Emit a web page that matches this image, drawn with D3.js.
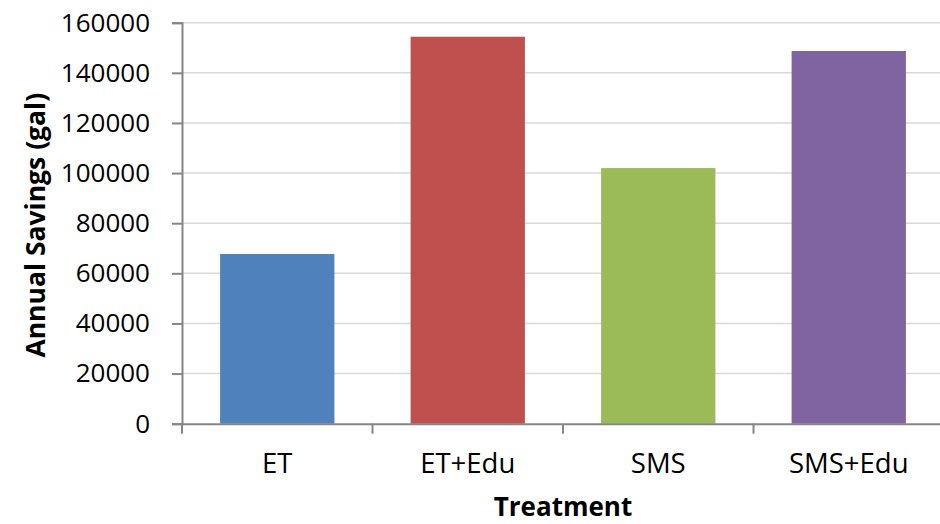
<!DOCTYPE html>
<html><head><meta charset="utf-8">
<script src="https://cdn.jsdelivr.net/npm/d3@7"></script>
<style>body{margin:0;background:#fff;} text{font-family:"Open Sans", Lato, sans-serif;}</style>
</head><body>
<svg id="chart" width="940" height="524"></svg>
<script>
const categories = ["ET", "ET+Edu", "SMS", "SMS+Edu"];
const values = [67700, 154400, 102000, 148700];
const colors = ["#4F81BD", "#C0504D", "#9BBB59", "#8064A2"];
const yTicks = [0, 20000, 40000, 60000, 80000, 100000, 120000, 140000, 160000];
const yTitle = "Annual Savings (gal)";
const xTitle = "Treatment";

const svg = d3.select("#chart");
const pLeft = 182, pRight = 944, pTop = 22.7, pBottom = 423.7;
const x = d3.scaleBand().domain(categories).range([pLeft, pRight]).paddingInner(0.4).paddingOuter(0.2);
const y = d3.scaleLinear().domain([0, 160000]).range([pBottom, pTop]);

// gridlines
svg.append("g").selectAll("line").data(yTicks.slice(1)).join("line")
  .attr("x1", pLeft).attr("x2", pRight)
  .attr("y1", d => y(d)).attr("y2", d => y(d))
  .attr("stroke", "#d9d9d9").attr("stroke-width", 1.5);

// bars
svg.append("g").selectAll("rect").data(categories).join("rect")
  .attr("x", d => x(d)).attr("width", x.bandwidth())
  .attr("y", (d, i) => y(values[i])).attr("height", (d, i) => pBottom - y(values[i]))
  .attr("fill", (d, i) => colors[i]);

// y axis
const ya = svg.append("g").attr("transform", `translate(${pLeft},0)`)
  .call(d3.axisLeft(y).tickValues(yTicks).tickFormat(d3.format("d")).tickSizeOuter(0).tickSize(10).tickPadding(22));
ya.select(".domain").attr("stroke", "#868686").attr("stroke-width", 2);
ya.selectAll(".tick line").attr("stroke", "#868686").attr("stroke-width", 2);
ya.selectAll(".tick text").attr("font-size", 26).attr("fill", "#000").attr("font-family", "Open Sans");

// x axis
const xa = svg.append("g").attr("transform", `translate(0,${pBottom})`)
  .call(d3.axisBottom(x).tickSize(0).tickPadding(30));
xa.select(".domain").attr("stroke", "#868686").attr("stroke-width", 2);
xa.selectAll(".tick text").attr("font-size", 27.5).attr("fill", "#000").attr("font-family", "Open Sans");
const bounds = categories.map(c => x(c) - x.step() * x.paddingInner() / 2).concat([pRight]);
xa.selectAll(".bnd").data(bounds).join("line").attr("class", "bnd")
  .attr("x1", d => d).attr("x2", d => d).attr("y1", 0).attr("y2", 10)
  .attr("stroke", "#868686").attr("stroke-width", 2);

// titles
svg.append("text").attr("transform", `translate(45,${(pTop + pBottom) / 2 + 2}) rotate(-90)`)
  .attr("text-anchor", "middle").attr("font-size", 26.5).attr("font-weight", "bold").text(yTitle);
svg.append("text").attr("x", (pLeft + pRight) / 2).attr("y", 516)
  .attr("text-anchor", "middle").attr("font-size", 26).attr("font-weight", "bold").text(xTitle);
</script>
</body></html>
